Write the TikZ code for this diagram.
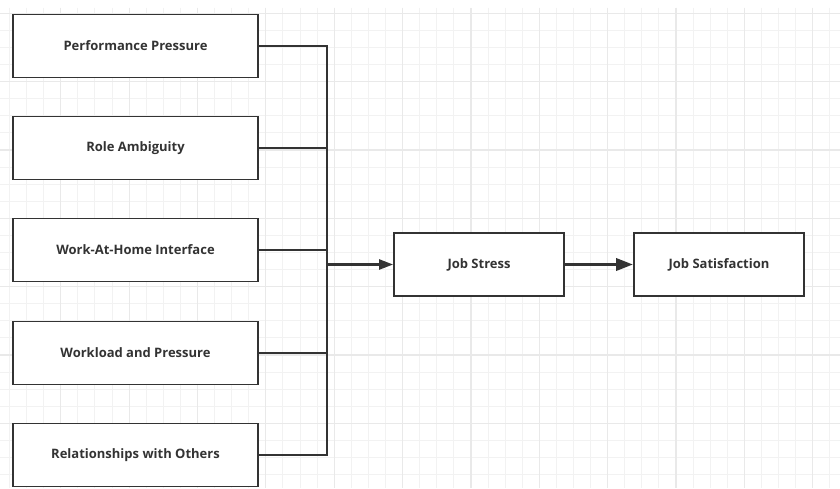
\documentclass[tikz,border=0pt]{standalone}
\usepackage{fontspec}
\setmainfont{Open Sans}
\usetikzlibrary{arrows.meta}

\definecolor{ink}{RGB}{51,51,51}
\definecolor{gridminor}{RGB}{242,242,242}
\definecolor{gridmajor}{RGB}{233,233,233}

\tikzset{
  factor/.style  = {draw=ink, line width=1.8pt, fill=white, text=ink, inner sep=0pt,
                    minimum width=245pt, minimum height=63pt,
                    font=\fontsize{13}{15}\selectfont\bfseries},
  outcome/.style = {factor, minimum width=170pt},
  link/.style    = {draw=ink, line width=2pt},
  push/.style    = {draw=ink, line width=2.4pt, -{Triangle[length=14pt,width=10pt]}},
  shove/.style   = {draw=ink, line width=3.4pt, -{Triangle[length=17pt,width=12pt]}}
}

\begin{document}
\begin{tikzpicture}[x=1pt, y=-1pt]

       \useasboundingbox             (0,0) rectangle (840,488);

       % grid paper
       \foreach \k in {0,...,48} {
         \pgfmathsetmacro{\gx}{9.5+17.09*\k}
         \draw [gridminor, line width=1pt]   (\gx,7.5) -- (\gx,488);
       }
       \foreach \k in {0,...,27} {
         \pgfmathsetmacro{\gy}{13.25+17.09*\k}
         \draw [gridminor, line width=1pt]   (0,\gy) -- (840,\gy);
       }
       \foreach \k in {3,7,...,47} {
         \pgfmathsetmacro{\gx}{9.5+17.09*\k}
         \draw [gridmajor, line width=1.2pt] (\gx,7.5) -- (\gx,488);
       }
       \foreach \k in {0,4,...,24} {
         \pgfmathsetmacro{\gy}{13.25+17.09*\k}
         \draw [gridmajor, line width=1.2pt] (0,\gy) -- (840,\gy);
       }

        \node [factor]  (perf)   at (135.5,46)    {Performance Pressure};
        \node [factor]  (role)   at (135.5,148)   {Role Ambiguity};
        \node [factor]  (home)   at (135.5,250)   {Work-At-Home Interface};
        \node [factor]  (load)   at (135.5,353)   {Workload and Pressure};
        \node [factor]  (others) at (135.5,455)   {Relationships with Others};

        \node [outcome] (stress) at (479,264.5)   {Job Stress};
        \node [outcome] (satis)  at (719,264.5)   {Job Satisfaction};

        \coordinate     (bus)    at (327,264.5);

        \draw [link]    (perf.east) -- (perf.east -| bus) -- (others.east -| bus) -- (others.east);
        \draw [link]    (role.east) -- (role.east -| bus);
        \draw [link]    (home.east) -- (home.east -| bus);
        \draw [link]    (load.east) -- (load.east -| bus);

        \draw [push]    (bus)         -- (stress.west);
        \draw [shove]   (stress.east) -- (satis.west);

     \end{tikzpicture}
\end{document}
